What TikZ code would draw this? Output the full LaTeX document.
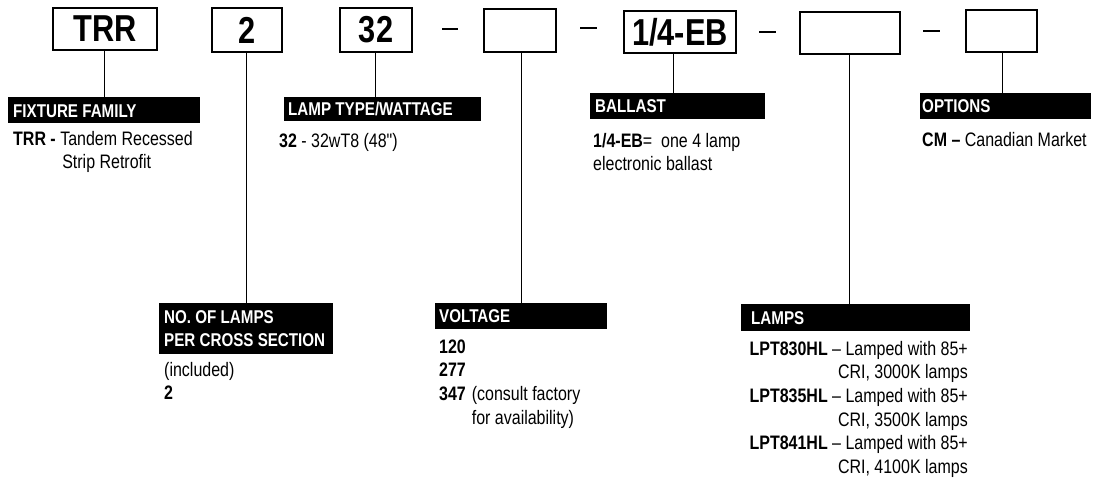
\documentclass[tikz,border=0pt]{standalone}
\usepackage{fontspec}
\setmainfont{Liberation Sans}[FakeStretch=0.82]
\newfontfamily\plainfont{Liberation Sans}[FakeStretch=0.82]
\newcommand\bodyfont{\fontsize{19.5}{23.7}\selectfont}
\tikzset{
  codebox/.style={draw, line width=1.1pt, inner sep=0pt, outer sep=0pt,
    font=\fontsize{37.5}{40}\selectfont\bfseries},
  hdrbar/.style={fill=black, inner sep=0pt, outer sep=0pt, anchor=north west},
  hdrtxt/.style={text=white, font=\fontsize{18.5}{23}\selectfont\bfseries,
    inner sep=0pt, anchor=base west},
  body/.style={font=\bodyfont, inner sep=0pt, anchor=base west},
  conn/.style={line width=1pt},
  dashmark/.style={line width=2.2pt}
}
\begin{document}
\begin{tikzpicture}[x=1pt,y=-1pt]
\useasboundingbox (0,0) rectangle (1094,479);

% code boxes
\node[codebox, minimum width=104pt, minimum height=42pt] (b1) at (105,29) {TRR};
\node[codebox, minimum width=70pt, minimum height=44pt] (b2) at (247,30) {2};
\node[codebox, minimum width=72pt, minimum height=44pt] (b3) at (376,30) {32};
\node[codebox, minimum width=72pt, minimum height=43pt] (b4) at (520,30.5) {};
\node[codebox, minimum width=112pt, minimum height=42pt] (b5) at (680,32) {1/4-EB};
\node[codebox, minimum width=100pt, minimum height=42pt] (b6) at (850,33) {};
\node[codebox, minimum width=71pt, minimum height=42pt] (b7) at (1001.5,31) {};

% dashes between boxes
\draw[dashmark] (442,29) -- (458,29);
\draw[dashmark] (580,28) -- (597,28);
\draw[dashmark] (759,32) -- (776,32);
\draw[dashmark] (923,31) -- (940,31);

% header bars
\node[hdrbar, minimum width=192pt, minimum height=26pt] (h1) at (8,97) {};
\node[hdrtxt] (t1) at (13,117) {FIXTURE FAMILY};
\node[hdrbar, minimum width=197pt, minimum height=24pt] (h2) at (284,97) {};
\node[hdrtxt] (t2) at (288,115.6) {LAMP TYPE/WATTAGE};
\node[hdrbar, minimum width=175pt, minimum height=26pt] (h3) at (590,93) {};
\node[hdrtxt] (t3) at (595,112.6) {BALLAST};
\node[hdrbar, minimum width=171pt, minimum height=26pt] (h4) at (920,93) {};
\node[hdrtxt] (t4) at (922,112.6) {OPTIONS};
\node[hdrbar, minimum width=174pt, minimum height=51pt] (h5) at (159,303) {};
\node[hdrtxt, align=left] (t5) at (164,323) {\begin{tabular}[t]{@{}l@{}}NO. OF LAMPS\\PER CROSS SECTION\end{tabular}};
\node[hdrbar, minimum width=172pt, minimum height=26pt] (h6) at (435,303) {};
\node[hdrtxt] (t6) at (439,322.6) {VOLTAGE};
\node[hdrbar, minimum width=229pt, minimum height=27pt] (h7) at (741,304) {};
\node[hdrtxt] (t7) at (751,324) {LAMPS};

% connectors
\coordinate (x1) at (104,0);
\coordinate (x2) at (246,0);
\coordinate (x3) at (375,0);
\coordinate (x4) at (521,0);
\coordinate (x5) at (673,0);
\coordinate (x6) at (849,0);
\coordinate (x7) at (1002,0);
\draw[conn] (b1.south -| x1) -- (h1.north -| x1);
\draw[conn] (b2.south -| x2) -- (h5.north -| x2);
\draw[conn] (b3.south -| x3) -- (h2.north -| x3);
\draw[conn] (b4.south -| x4) -- (h6.north -| x4);
\draw[conn] (b5.south -| x5) -- (h3.north -| x5);
\draw[conn] (b6.south -| x6) -- (h7.north -| x6);
\draw[conn] (b7.south -| x7) -- (h4.north -| x7);

% descriptions
\node[body] (d1) at (13,145) {\begin{tabular}[t]{@{}l@{ }l@{}}\textbf{TRR -} & Tandem Recessed\\ & \hspace{2pt}Strip Retrofit\end{tabular}};
\node[body] (d2) at (279,147) {\textbf{32} - 32wT8 (48{\plainfont"})};
\node[body] (d3) at (593,147) {\begin{tabular}[t]{@{}l@{}}\textbf{1/4-EB}= \ one 4 lamp\\electronic ballast\end{tabular}};
\node[body] (d4) at (922,146) {\textbf{CM –} Canadian Market};
\node[body] (d5) at (164,376) {\begin{tabular}[t]{@{}l@{}}(included)\\\textbf{2}\end{tabular}};
\node[body] (d6) at (439,353) {\begin{tabular}[t]{@{}l@{\hspace{6pt}}l@{}}\textbf{120}\\\textbf{277}\\\textbf{347} & (consult factory\\ & for availability)\end{tabular}};
\node[body, anchor=base east] (d7) at (968,355) {\begin{tabular}[t]{@{}r@{}}\textbf{LPT830HL} – Lamped with 85+\\CRI, 3000K lamps\\\textbf{LPT835HL} – Lamped with 85+\\CRI, 3500K lamps\\\textbf{LPT841HL} – Lamped with 85+\\CRI, 4100K lamps\end{tabular}};
\end{tikzpicture}
\end{document}
